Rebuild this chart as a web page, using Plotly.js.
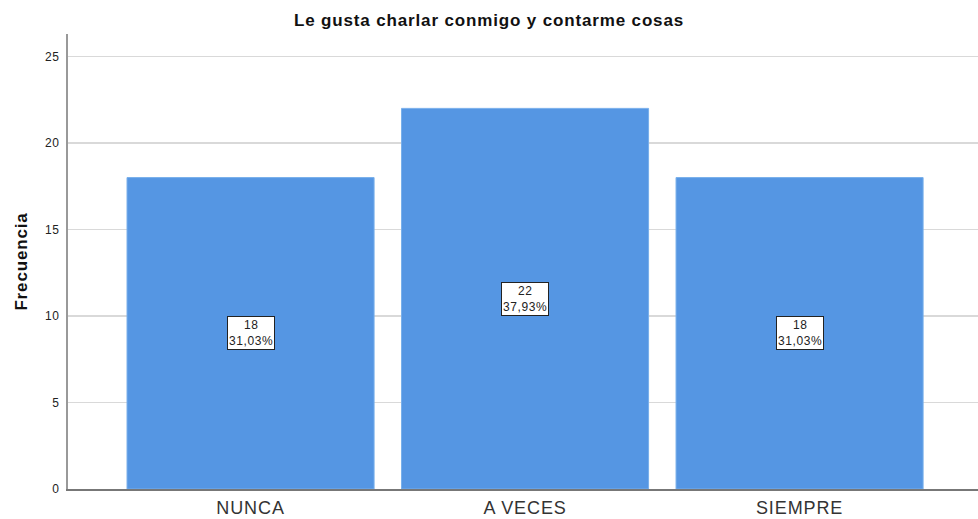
<!DOCTYPE html>
<html>
<head>
<meta charset="utf-8">
<script src="https://cdn.plot.ly/plotly-3.0.1.min.js"></script>
<style>
html,body{margin:0;padding:0;background:#fff;}
#chart{width:978px;height:519px;}
svg text{letter-spacing:0.05em;}
</style>
</head>
<body>
<div id="chart"></div>
<script>
const categories = ["NUNCA", "A VECES", "SIEMPRE"];
const frequencies = [18, 22, 18];
const percentLabels = ["31,03%", "37,93%", "31,03%"];
const yTicks = [0, 5, 10, 15, 20, 25];

const FONT = "Liberation Sans, Arial, sans-serif";

const trace = {
  type: "bar",
  x: categories,
  y: frequencies,
  width: 0.9,
  marker: {color: "rgb(85,150,227)", line: {color: "rgb(120,175,235)", width: 1}},
  hoverinfo: "none"
};

const annotations = categories.map((c, i) => ({
  x: c,
  y: frequencies[i] / 2,
  xref: "x",
  yref: "y",
  text: frequencies[i] + "<br>" + percentLabels[i],
  showarrow: false,
  bgcolor: "#ffffff",
  bordercolor: "#222222",
  borderwidth: 1,
  borderpad: 1,
  font: {family: FONT, size: 12, color: "#222"}
}));

const layout = {
  width: 978,
  height: 519,
  margin: {l: 68, r: 0, t: 34, b: 30},
  paper_bgcolor: "#ffffff",
  plot_bgcolor: "#ffffff",
  showlegend: false,
  title: {
    text: "<b>Le gusta charlar conmigo y contarme cosas</b>",
    font: {family: FONT, size: 17, color: "#111"},
    x: 0.5, xref: "container", xanchor: "center",
    y: 0.961, yref: "container", yanchor: "middle"
  },
  xaxis: {
    type: "category",
    range: [-0.665, 2.65],
    showgrid: false,
    showline: true,
    linecolor: "#777",
    linewidth: 1.5,
    ticks: "",
    tickfont: {family: FONT, size: 18, color: "#333"},
    ticklabelstandoff: 2,
    zeroline: false
  },
  yaxis: {
    range: [0, 26.3],
    tickvals: yTicks,
    ticktext: yTicks.map(String),
    showgrid: true,
    gridcolor: "#d9d9d9",
    gridwidth: 1.5,
    showline: true,
    linecolor: "#999",
    linewidth: 2,
    ticks: "",
    zeroline: false,
    tickfont: {family: FONT, size: 12, color: "#222"},
    ticklabelstandoff: 4,
    title: {
      text: "<b>Frecuencia</b>",
      font: {family: FONT, size: 17, color: "#111"},
      standoff: 13
    }
  },
  annotations: annotations,
  bargap: 0.1
};

Plotly.newPlot("chart", [trace], layout, {displayModeBar: false, staticPlot: true});
</script>
</body>
</html>
